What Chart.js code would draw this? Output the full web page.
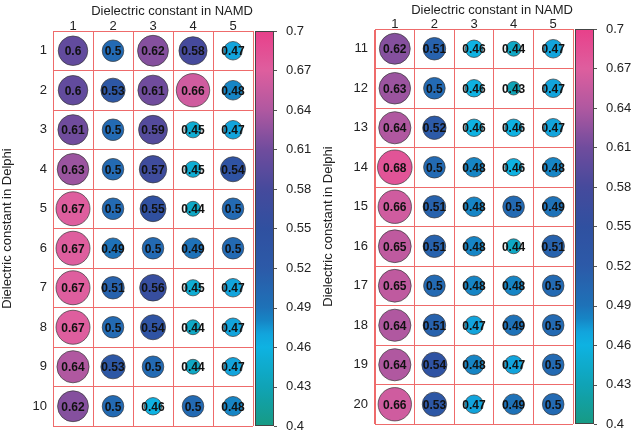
<!DOCTYPE html>
<html>
<head>
<meta charset="utf-8">
<script src="https://cdn.jsdelivr.net/npm/chart.js@4/dist/chart.umd.min.js"></script>
<style>
html,body{margin:0;padding:0;background:#fff;}
#wrap{position:relative;width:633px;height:435px;overflow:hidden;}
.pane{position:absolute;top:0;}
</style>
</head>
<body>
<div id="wrap">
  <div class="pane" style="left:0"><canvas id="c1" width="316" height="435"></canvas></div>
  <div class="pane" style="left:316px"><canvas id="c2" width="317" height="435"></canvas></div>
</div>
<script>
// ---- data ----
const colLabels = ['1','2','3','4','5'];
const rowLabelsLeft = ['1','2','3','4','5','6','7','8','9','10'];
const rowLabelsRight = ['11','12','13','14','15','16','17','18','19','20'];
const valuesLeft = [
  [0.60, 0.50, 0.62, 0.58, 0.47],
  [0.60, 0.53, 0.61, 0.66, 0.48],
  [0.61, 0.50, 0.59, 0.45, 0.47],
  [0.63, 0.50, 0.57, 0.45, 0.54],
  [0.67, 0.50, 0.55, 0.44, 0.50],
  [0.67, 0.49, 0.50, 0.49, 0.50],
  [0.67, 0.51, 0.56, 0.45, 0.47],
  [0.67, 0.50, 0.54, 0.44, 0.47],
  [0.64, 0.53, 0.50, 0.44, 0.47],
  [0.62, 0.50, 0.46, 0.50, 0.48]
];
const valuesRight = [
  [0.62, 0.51, 0.46, 0.44, 0.47],
  [0.63, 0.50, 0.46, 0.43, 0.47],
  [0.64, 0.52, 0.46, 0.46, 0.47],
  [0.68, 0.50, 0.48, 0.46, 0.48],
  [0.66, 0.51, 0.48, 0.50, 0.49],
  [0.65, 0.51, 0.48, 0.44, 0.51],
  [0.65, 0.50, 0.48, 0.48, 0.50],
  [0.64, 0.51, 0.47, 0.49, 0.50],
  [0.64, 0.54, 0.48, 0.47, 0.50],
  [0.66, 0.53, 0.47, 0.49, 0.50]
];
const cbTicks = [0.40, 0.43, 0.46, 0.49, 0.52, 0.55, 0.58, 0.61, 0.64, 0.67, 0.70];
const cbMin = 0.4, cbMax = 0.7;
const xTitle = 'Dielectric constant in NAMD';
const yTitle = 'Dielectric constant in Delphi';

// ---- colormap ----
const cmapStops = [
  [0.40, [23,154,132]],
  [0.43, [16,163,182]],
  [0.46, [14,178,226]],
  [0.47, [18,164,220]],
  [0.48, [22,133,197]],
  [0.49, [30,114,184]],
  [0.52, [44,90,168]],
  [0.55, [48,80,160]],
  [0.58, [70,74,156]],
  [0.61, [112,76,157]],
  [0.64, [176,88,160]],
  [0.67, [222,94,158]],
  [0.70, [232,64,138]]
];
function cmap(v){
  if (v <= cmapStops[0][0]) return 'rgb(' + cmapStops[0][1].join(',') + ')';
  for (let i = 1; i < cmapStops.length; i++){
    const [v1,c1] = cmapStops[i];
    const [v0,c0] = cmapStops[i-1];
    if (v <= v1 + 1e-9){
      const t = (v - v0) / (v1 - v0);
      const c = c0.map((a,k)=>Math.round(a + (c1[k]-a)*t));
      return 'rgb(' + c.join(',') + ')';
    }
  }
  return 'rgb(' + cmapStops[cmapStops.length-1][1].join(',') + ')';
}
function bubbleRadius(v){ return Math.sqrt(Math.max(20, 1013*v - 390)); }

const FONT = 'Liberation Sans, Arial, Helvetica, sans-serif';
const gridRed = '#ee6b6b';

const labelPlugin = {
  id: 'bubbleLabels',
  afterDatasetsDraw(chart){
    const ctx = chart.ctx;
    const meta = chart.getDatasetMeta(0);
    ctx.save();
    ctx.font = 'bold 12px ' + FONT;
    ctx.fillStyle = '#111';
    ctx.textAlign = 'center';
    ctx.textBaseline = 'middle';
    meta.data.forEach((el, i) => {
      const v = chart.data.datasets[0].data[i].v;
      ctx.fillText(String(Number(v.toFixed(2))), el.x, el.y + 1);
    });
    ctx.restore();
  }
};

const colorbarPlugin = {
  id: 'colorbar',
  afterDraw(chart){
    const cb = chart.scales.cb;
    const ctx = chart.ctx;
    const x0 = chart.chartArea.right + 2, w = 19;
    const yTop = cb.getPixelForValue(cbMax), yBot = cb.getPixelForValue(cbMin);
    const g = ctx.createLinearGradient(0, yBot, 0, yTop);
    const n = 60;
    for (let i = 0; i <= n; i++){
      const v = cbMin + (cbMax - cbMin) * i / n;
      g.addColorStop(i / n, cmap(v));
    }
    ctx.save();
    ctx.fillStyle = g;
    ctx.fillRect(x0, yTop, w, yBot - yTop);
    ctx.strokeStyle = '#444';
    ctx.lineWidth = 1;
    ctx.strokeRect(x0 + 0.5, yTop + 0.5, w - 1, yBot - yTop - 1);
    ctx.strokeStyle = '#555';
    cb.ticks.forEach(t => {
      const y = Math.round(cb.getPixelForValue(t.value)) + 0.5;
      ctx.beginPath();
      ctx.moveTo(x0 + w, y);
      ctx.lineTo(x0 + w + 3, y);
      ctx.stroke();
    });
    ctx.restore();
  }
};

function zeroPad(s){ s.paddingTop = 0; s.paddingBottom = 0; s.paddingLeft = 0; s.paddingRight = 0; }

function makeChart(canvasId, rows, values, cfg){
  const data = [];
  rows.forEach((r, i) => colLabels.forEach((c, j) => data.push({x: c, y: r, v: values[i][j]})));
  return new Chart(document.getElementById(canvasId), {
    type: 'bubble',
    data: {
      datasets: [{
        data: data,
        backgroundColor: ctx => cmap(ctx.raw.v),
        borderColor: '#3a3a3a',
        borderWidth: 0.7,
        radius: ctx => bubbleRadius(ctx.raw.v),
        hoverRadius: 0
      }]
    },
    options: {
      responsive: false,
      animation: false,
      events: [],
      layout: { autoPadding: false, padding: { top: 0, left: 0, right: 0, bottom: cfg.bottomPad } },
      plugins: { legend: { display: false }, tooltip: { enabled: false } },
      scales: {
        x: {
          type: 'category', labels: colLabels, position: 'top', offset: true,
          grid: { color: gridRed, lineWidth: 1, offset: true, drawTicks: false },
          border: { color: gridRed, width: 1 },
          ticks: { font: { family: FONT, size: 13 }, color: '#222', padding: -3 },
          title: { display: true, text: xTitle, align: 'end', color: '#222',
                   font: { family: FONT, size: 13 }, padding: { top: cfg.xTitlePad, bottom: 0 } },
          afterFit: s => { s.height = cfg.topH; zeroPad(s); }
        },
        y: {
          type: 'category', labels: rows, position: 'left', offset: true,
          grid: { color: gridRed, lineWidth: 1, offset: true, drawTicks: false },
          border: { color: gridRed, width: 1 },
          ticks: { font: { family: FONT, size: 13 }, color: '#222', padding: cfg.yTickPad },
          title: { display: true, text: yTitle, color: '#222',
                   font: { family: FONT, size: 13 }, padding: { top: cfg.yTitlePad, bottom: 0 } },
          afterFit: s => { s.width = cfg.leftW; zeroPad(s); }
        },
        cb: {
          type: 'linear', position: 'right', min: cbMin, max: cbMax,
          grid: { display: false, drawTicks: false }, border: { display: false },
          afterBuildTicks: s => { s.ticks = cbTicks.map(v => ({value: v})); },
          ticks: { font: { family: FONT, size: 13 }, color: '#222', padding: 33,
                   callback: v => String(Number(Number(v).toFixed(2))) },
          afterFit: s => { s.width = cfg.rightW; zeroPad(s); }
        }
      }
    },
    plugins: [labelPlugin, colorbarPlugin]
  });
}

makeChart('c1', rowLabelsLeft, valuesLeft,
  { leftW: 53, rightW: 63, topH: 31, bottomPad: 9, xTitlePad: 4, yTitlePad: 0, yTickPad: 6 });
makeChart('c2', rowLabelsRight, valuesRight,
  { leftW: 59, rightW: 60, topH: 29, bottomPad: 11, xTitlePad: 3, yTitlePad: 5, yTickPad: 7 });
</script>
</body>
</html>
